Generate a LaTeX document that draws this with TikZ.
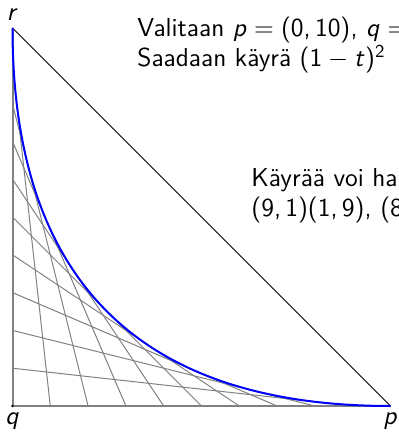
\documentclass[tikz,border=0pt]{standalone}
\usepackage{fix-cm}
\usepackage{tikz}
\usetikzlibrary{calc}
\definecolor{chordgray}{HTML}{808080}
\definecolor{curveblue}{HTML}{0000FF}
% sans math as on the slides
\SetSymbolFont{operators}{normal}{OT1}{cmss}{m}{n}
\SetSymbolFont{letters}{normal}{OT1}{cmss}{m}{sl}
\DeclareMathSymbol{,}{\mathpunct}{operators}{"2C}

\begin{document}
\begin{tikzpicture}[x=0.5pt,y=-0.5pt,
  chord/.style={chordgray,line width=0.5pt},
  side/.style={chordgray,line width=1pt},
  lbl/.style={font=\sffamily\fontsize{13}{16}\selectfont},
  txt/.style={font=\sffamily\fontsize{13}{16}\selectfont,anchor=base west,inner sep=0pt}]
\useasboundingbox (0,0) rectangle (398,432);
\clip (0,0) rectangle (398,432);
\coordinate (q) at (12.5,406);
\coordinate (p) at (390.5,406);
\coordinate (r) at (12.5,28);
\draw[line width=0.5pt] (r) -- (p);
\foreach \k [evaluate=\k as \m using 10-\k] in {1,...,9}
  \draw[chord] ($(q)!\k/10!(p)$) -- ($(q)!\m/10!(r)$);
\draw[side] (r) -- (q) -- (p);
\draw[curveblue,line width=1pt] (r) .. controls ($(r)!2/3!(q)$) and ($(p)!2/3!(q)$) .. (p);
\fill (q) circle (0.7pt);
\node[lbl,above] (rlab) at (r) {$r$};
\node[lbl,below] (qlab) at (q) {$q$};
\node[lbl,below] (plab) at (p) {$p$};
% text on the right, cut by the frame
\node[txt] (intro1) at (137,37) {Valitaan $p=(0,10)$, $q=$};
\node[txt] (intro2) at (137,67) {Saadaan käyrä $(1-t)^2$};
\node[txt] (note1) at (251,187) {Käyrää voi ha};
\node[txt] (note2) at (251,216) {$(9,1)(1,9)$, $(8$};
\end{tikzpicture}
\end{document}
